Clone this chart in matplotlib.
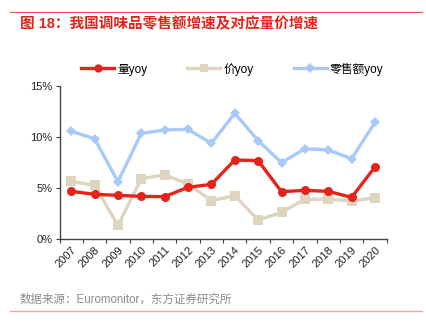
import matplotlib
matplotlib.use("Agg")
import matplotlib.pyplot as plt
from matplotlib.lines import Line2D
import numpy as np

plt.rcParams['font.family'] = ['Liberation Sans', 'Noto Sans CJK SC', 'DejaVu Sans']

years = ["2007", "2008", "2009", "2010", "2011", "2012", "2013",
         "2014", "2015", "2016", "2017", "2018", "2019", "2020"]
volume_yoy = [4.67, 4.38, 4.28, 4.18, 4.15, 5.07, 5.36, 7.75, 7.68, 4.64, 4.77, 4.67, 4.08, 7.06]
price_yoy = [5.65, 5.26, 1.34, 5.91, 6.30, 5.39, 3.76, 4.25, 1.86, 2.61, 3.89, 3.89, 3.73, 4.02]
retail_yoy = [10.56, 9.83, 5.62, 10.36, 10.69, 10.75, 9.38, 12.32, 9.64, 7.48, 8.85, 8.73, 7.87, 11.44]
series_names = ["量yoy", "价yoy", "零售额yoy"]
y_ticks = [0, 5, 10, 15]

RED = "#E5231B"
TAN = "#DED5BF"
BLUE = "#A9C9F9"

fig = plt.figure(figsize=(4.26, 3.27), dpi=100)
fig.patch.set_facecolor("white")

ax = fig.add_axes([0.1397, 0.2691, 0.7680, 0.4679])
x = np.arange(len(years))

ax.plot(x, retail_yoy, color=BLUE, lw=2.4, marker="D", ms=5.5,
        markeredgewidth=0, zorder=2)
ax.plot(x, price_yoy, color=TAN, lw=2.4, marker="s", ms=6.5,
        markeredgewidth=0, zorder=3)
ax.plot(x, volume_yoy, color=RED, lw=2.4, marker="o", ms=6.5,
        markeredgewidth=0, zorder=4)

ax.set_xlim(-0.5, len(years) - 0.5)
ax.set_ylim(0, 15)
ax.set_yticks(y_ticks)
ax.set_yticklabels([f"{v}%" for v in y_ticks], fontsize=8, color="#222222")

# category boundary ticks, labels centred on each category
ax.set_xticks(np.arange(len(years) + 1) - 0.5)
ax.set_xticklabels([])
ax.set_xticks(x, minor=True)
ax.set_xticklabels(years, minor=True, rotation=45, ha="right",
                   rotation_mode="anchor", fontsize=8, color="#222222")
ax.tick_params(axis="x", which="minor", length=0, pad=4)
ax.tick_params(axis="x", which="major", length=3, width=0.8, color="#444444")
ax.tick_params(axis="y", length=3, width=0.8, color="#444444", pad=2)

for side in ("top", "right"):
    ax.spines[side].set_visible(False)
for side in ("left", "bottom"):
    ax.spines[side].set_color("#444444")
    ax.spines[side].set_linewidth(1.0)

handles = [
    Line2D([], [], color=RED, lw=2.4, marker="o", ms=6, markeredgewidth=0),
    Line2D([], [], color=TAN, lw=2.4, marker="s", ms=6, markeredgewidth=0),
    Line2D([], [], color=BLUE, lw=2.4, marker="D", ms=5, markeredgewidth=0),
]
fig.legend(handles, series_names, loc="center", bbox_to_anchor=(0.545, 0.789),
           ncol=3, frameon=False, fontsize=8.5, handlelength=2.8,
           handletextpad=0.25, columnspacing=3.4)

# header rule and title
fig.add_artist(Line2D([10 / 426, 422 / 426], [1 - 12 / 327, 1 - 12 / 327],
                      color="#E8504A", lw=0.8))
fig.text(20 / 426, 1 - 24 / 327, "图 18：我国调味品零售额增速及对应量价增速",
         color="#E5231B", fontsize=10.5, fontweight="bold", va="center", ha="left")

# footer source and rule
fig.text(20 / 426, 1 - 300 / 327, "数据来源：Euromonitor，东方证券研究所",
         color="#8C8C8C", fontsize=8.3, va="center", ha="left")
fig.add_artist(Line2D([10 / 426, 422 / 426], [1 - 310.5 / 327, 1 - 310.5 / 327],
                      color="#F2A6A0", lw=1.0))

fig.savefig("out.png", dpi=100, facecolor="white")
